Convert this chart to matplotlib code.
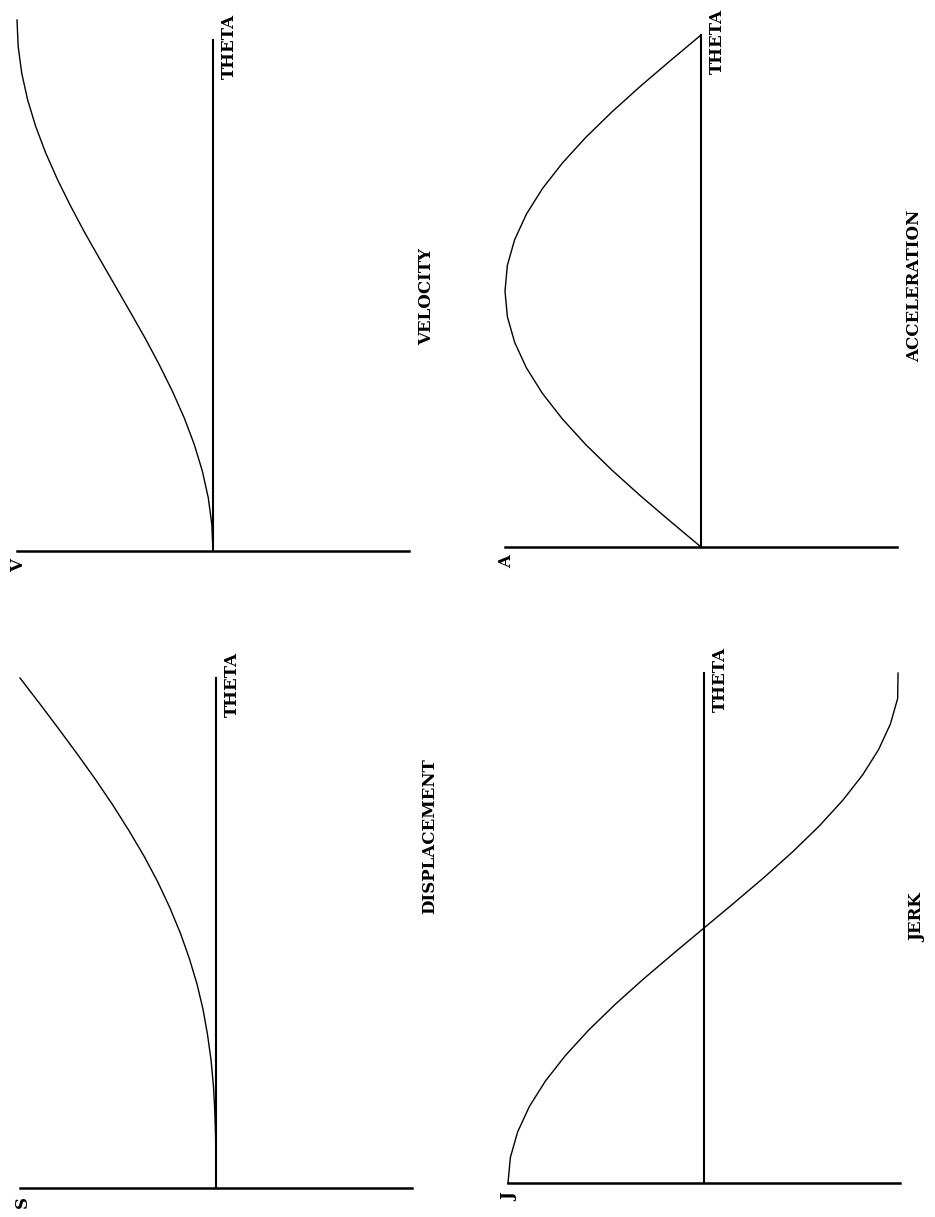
import numpy as np
import matplotlib
matplotlib.use("Agg")
import matplotlib.pyplot as plt

# cam rise over one follower stroke, theta normalised to 0..1
theta = [0.00, 0.05, 0.10, 0.15, 0.20, 0.25, 0.30, 0.35, 0.40, 0.45, 0.50,
         0.55, 0.60, 0.65, 0.70, 0.75, 0.80, 0.85, 0.90, 0.95, 1.00]

displacement = [0.000, 0.000, 0.002, 0.006, 0.013, 0.025, 0.043, 0.066, 0.097, 0.136, 0.182,
                0.236, 0.297, 0.366, 0.443, 0.525, 0.613, 0.706, 0.802, 0.900, 1.000]
velocity = [0.000, 0.006, 0.024, 0.054, 0.095, 0.146, 0.206, 0.273, 0.345, 0.422, 0.500,
            0.578, 0.655, 0.727, 0.794, 0.854, 0.905, 0.946, 0.976, 0.994, 1.000]
acceleration = [0.000, 0.156, 0.309, 0.454, 0.588, 0.707, 0.809, 0.891, 0.951, 0.988, 1.000,
                0.988, 0.951, 0.891, 0.809, 0.707, 0.588, 0.454, 0.309, 0.156, 0.000]
jerk = [1.000, 0.988, 0.951, 0.891, 0.809, 0.707, 0.588, 0.454, 0.309, 0.156, 0.000,
        -0.156, -0.309, -0.454, -0.588, -0.707, -0.809, -0.891, -0.951, -0.988, -0.990]

W, H = 935, 1217
fig = plt.figure(figsize=(W / 100, H / 100), dpi=100)
fig.patch.set_facecolor("white")

font = dict(family=["DejaVu Serif", "Liberation Serif"], weight="bold", size=12)

# (title, symbol, values, pixel box x0, x1, y_top, y_bottom, theta axis end, title theta)
panels = [
    ("DISPLACEMENT", "S", displacement, 20, 412, 678, 1188, 1.0, 0.69),
    ("VELOCITY", "V", velocity, 17, 409, 20, 551, 0.962, 0.48),
    ("ACCELERATION", "A", acceleration, 505, 897, 35, 547, 1.0, 0.51),
    ("JERK", "J", jerk, 508, 900, 673, 1183, 1.0, 0.52),
]

for title, sym, vals, x0, x1, yt, yb, tend, tpos in panels:
    ax = fig.add_axes([x0 / W, 1 - yb / H, (x1 - x0) / W, (yb - yt) / H])
    ax.set_xlim(1, -1)
    ax.set_ylim(0, 1)
    ax.axis("off")
    # value axis and theta axis
    ax.axhline(0, color="black", lw=1.8, clip_on=False)
    ax.axvline(0, ymin=0, ymax=tend, color="black", lw=1.5, clip_on=False)
    ax.plot(vals, theta, color="black", lw=1.0, clip_on=False)
    ax.text(0.99, -0.028, sym, rotation=90, ha="center", va="center", **font)
    ax.text(-0.085, tend - 0.012, "THETA", rotation=90, ha="center", va="center", **font)
    ax.text(-1.09, tpos, title, rotation=90, ha="center", va="center", **font)

fig.savefig("out.png", dpi=100, facecolor="white")
